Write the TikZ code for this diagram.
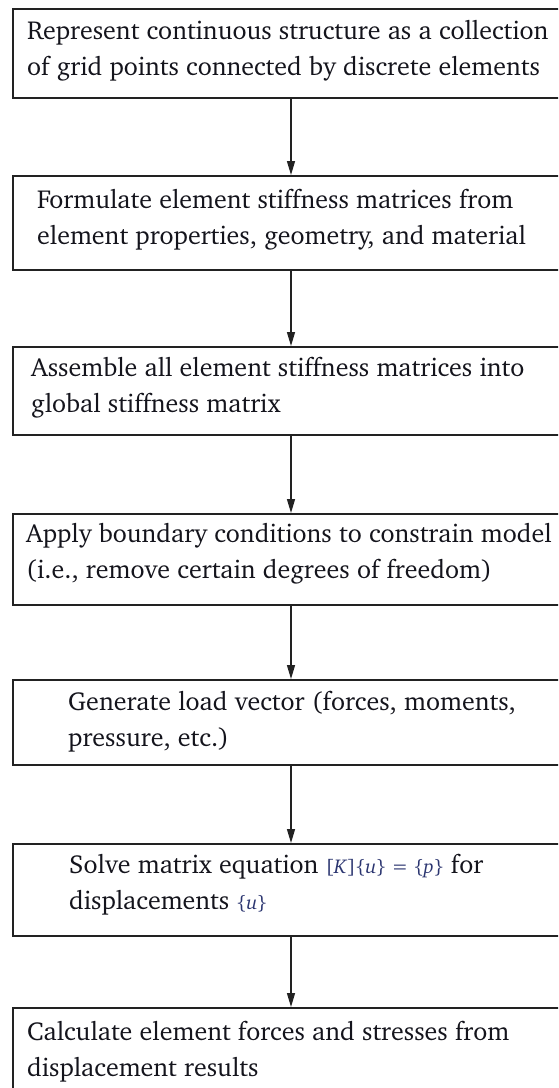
\documentclass[tikz,border=0pt]{standalone}
\usepackage[T1]{fontenc}
\usepackage{charter}
\usetikzlibrary{arrows.meta}
\definecolor{edge}{HTML}{222222}
\definecolor{inkc}{HTML}{14141C}
\definecolor{mathc}{HTML}{2B3570}
\tikzset{
  stepbox/.style={draw=edge, line width=1.8pt, minimum width=620pt, anchor=north west, inner sep=0pt},
  steptext/.style={anchor=base west, align=left, inner sep=0pt, text=inkc, font=\fontsize{26}{36}\selectfont},
  flow/.style={draw=edge, line width=1.3pt, -{Triangle[width=8pt,length=14pt]}}
}
\newcommand{\mth}[1]{{\color{mathc}\fontsize{20}{36}\selectfont #1}}
\begin{document}
\begin{tikzpicture}[x=1pt,y=-1pt]
\useasboundingbox (0,0) rectangle (558,1088);
\clip (0,0) rectangle (558,1088);
\fill[white] (0,0) rectangle (558,1088);
\coordinate (ax) at (291,0);
\node[stepbox, minimum height=89pt] (b1) at (12,8) {};
\node[stepbox, minimum height=94pt] (b2) at (12,175) {};
\node[stepbox, minimum height=88pt] (b3) at (12,346) {};
\node[stepbox, minimum height=91pt] (b4) at (12,513) {};
\node[stepbox, minimum height=85pt] (b5) at (12,679) {};
\node[stepbox, minimum height=92pt] (b6) at (12,843) {};
\node[stepbox, minimum height=92pt] (b7) at (12,1007) {};
\node[steptext] (t1) at (27,75) {Represent continuous structure as a collection\\of grid points connected by discrete elements};
\node[steptext] (t2) at (37,244) {Formulate element stiffness matrices from\\element properties, geometry, and material};
\node[steptext] (t3) at (31,412) {Assemble all element stiffness matrices into\\global stiffness matrix};
\node[steptext] (t4) at (26,578) {Apply boundary conditions to constrain model\\(i.e., remove certain degrees of freedom)};
\node[steptext] (t5) at (68,746) {Generate load vector (forces, moments,\\pressure, etc.)};
\node[steptext] (t6) at (69,909) {Solve matrix equation \mth{[\textit{K}]\{\textit{u}\} = \{\textit{p}\}} for\\displacements \mth{\{\textit{u}\}}};
\node[steptext] (t7) at (27,1076) {Calculate element forces and stresses from\\displacement results};
\draw[flow] (ax |- b1.south) -- (ax |- b2.north);
\draw[flow] (ax |- b2.south) -- (ax |- b3.north);
\draw[flow] (ax |- b3.south) -- (ax |- b4.north);
\draw[flow] (ax |- b4.south) -- (ax |- b5.north);
\draw[flow] (ax |- b5.south) -- (ax |- b6.north);
\draw[flow] (ax |- b6.south) -- (ax |- b7.north);
\end{tikzpicture}
\end{document}
